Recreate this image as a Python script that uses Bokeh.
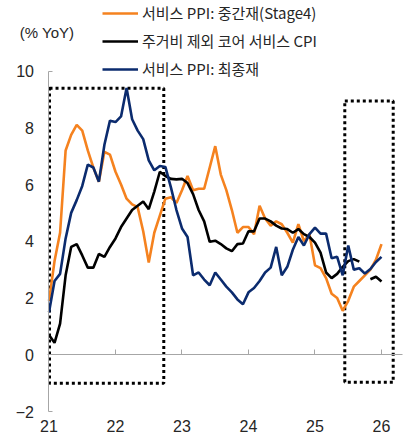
from bokeh.plotting import figure
from bokeh.models import Range1d, FixedTicker, Legend, LegendItem, Label
from bokeh.embed import file_html
from bokeh.resources import INLINE

# ---------------- data (monthly, Jan 2021 - Jan 2026) ----------------
months = [f"{y}-{m:02d}" for y in range(2021, 2027) for m in range(1, 13)][:61]

stage4_services_ppi = [
    1.9, 3.3, 4.3, 7.2, 7.75, 8.1, 7.9, 7.2, 6.6, 6.1,
    7.15, 7.05, 6.45, 6.0, 5.5, 5.3, 5.2, 4.35, 3.25, 4.3,
    4.9, 5.5, 5.55, 5.35, 5.8, 6.3, 5.8, 5.85, 5.85, 6.6,
    7.35, 6.35, 5.8, 5.1, 4.3, 4.5, 4.5, 4.25, 5.25, 4.8,
    4.55, 4.7, 4.6, 4.3, 3.95, 4.6, 4.0, 4.25, 3.15, 3.05,
    2.7, 2.15, 2.0, 1.55, 1.9, 2.4, 2.6, 2.8, 3.0, 3.35,
    3.9,
]
core_services_ex_housing_cpi = [
    0.7, 0.42, 1.1, 2.8, 3.8, 3.9, 3.5, 3.07, 3.07, 3.55,
    3.45, 3.8, 4.1, 4.5, 4.8, 5.1, 5.25, 5.4, 5.13, 5.75,
    6.45, 6.3, 6.2, 6.18, 6.2, 6.05, 5.66, 5.1, 4.7, 3.98,
    4.02, 3.9, 3.75, 3.65, 3.9, 3.92, 4.35, 4.35, 4.8, 4.8,
    4.7, 4.55, 4.45, 4.43, 4.3, 4.43, 4.25, 4.15, 3.95, 3.6,
    2.9, 2.7, 2.85, 3.1, 3.3, 3.37, 3.28, float("nan"), 2.66, 2.75,
    2.58,
]
final_demand_services_ppi = [
    1.5, 2.6, 2.85, 4.1, 5.0, 5.45, 5.95, 6.7, 6.6, 6.1,
    7.4, 8.25, 8.2, 8.4, 9.4, 8.3, 7.9, 7.6, 6.85, 6.5,
    6.65, 6.62, 5.9, 5.1, 4.45, 4.15, 2.8, 2.9, 2.65, 2.45,
    2.9, 2.65, 2.4, 2.2, 1.95, 1.78, 2.2, 2.35, 2.6, 2.9,
    3.07, 3.8, 2.8, 3.1, 3.7, 4.15, 3.85, 4.25, 4.48, 4.27,
    4.27, 3.4, 3.45, 2.8, 3.85, 3.0, 3.05, 2.86, 3.02, 3.27,
    3.45,
]

series_labels = ["서비스 PPI: 중간재(Stage4)", "주거비 제외 코어 서비스 CPI", "서비스 PPI: 최종재"]
year_ticks = [2021, 2022, 2023, 2024, 2025, 2026]
year_labels = ["21", "22", "23", "24", "25", "26"]
y_ticks = [-2, 0, 2, 4, 6, 8, 10]
unit_label = "(% YoY)"

# highlighted periods (dotted boxes): left, right, bottom, top
box_left = [2021.008, 2025.448]
box_right = [2022.726, 2026.176]
box_bottom = [-1.0, -0.97]
box_top = [9.39, 8.94]

# ---------------- styling ----------------
ORANGE = "#F5821F"
BLACK = "#000000"
NAVY = "#0B2B6E"
GRAY = "#A6A6A6"
TXT = "#262626"
KFONT = "Noto Sans CJK KR"
NFONT = "Liberation Sans"

x = [int(s[:4]) + (int(s[5:]) - 1) / 12 for s in months]

X0, X1 = 2020.2707, 2026.391          # full-canvas frame
Y0, Y1 = -2.9515, 12.485
AX_X = 2020.985                       # where the y axis sits
XB = (2020.977, 2026.316)             # extent of the zero line

p = figure(width=407, height=438, output_backend="svg", toolbar_location=None,
           x_range=Range1d(X0, X1), y_range=Range1d(Y0, Y1),
           min_border=0)
p.outline_line_color = None
p.xgrid.visible = False
p.ygrid.visible = False
p.background_fill_color = "white"
p.border_fill_color = "white"

# x axis: drawn on the zero line, labels at the bottom
xa = p.xaxis[0]
xa.fixed_location = 0
xa.bounds = XB
xa.ticker = FixedTicker(ticks=year_ticks, minor_ticks=year_ticks[1:])
xa.major_label_overrides = {t: l for t, l in zip(year_ticks, year_labels)}
xa.axis_line_color = GRAY
xa.major_tick_in = 0
xa.major_tick_out = 0
xa.minor_tick_in = 5
xa.minor_tick_out = 0
xa.minor_tick_line_color = GRAY
xa.major_label_standoff = 65
xa.major_label_text_font = NFONT
xa.major_label_text_font_size = "16px"
xa.major_label_text_color = TXT

# y axis
ya = p.yaxis[0]
ya.fixed_location = AX_X
ya.bounds = (y_ticks[0], y_ticks[-1])
ya.ticker = FixedTicker(ticks=y_ticks, minor_ticks=[y_ticks[0], y_ticks[-1]])
ya.axis_line_color = GRAY
ya.major_tick_in = 0
ya.major_tick_out = 0
ya.minor_tick_in = 4
ya.minor_tick_out = 0
ya.minor_tick_line_color = GRAY
ya.major_label_standoff = 14
ya.major_label_text_font = NFONT
ya.major_label_text_font_size = "16px"
ya.major_label_text_color = TXT
ya.major_label_overrides = {t: ("\u22122" if t < 0 else str(t)) for t in y_ticks}

# dotted highlight boxes
p.quad(left=box_left, right=box_right, bottom=box_bottom, top=box_top,
       fill_color=None, line_color="black", line_width=3, line_dash="3 3")

r1 = p.line(x, stage4_services_ppi, line_color=ORANGE, line_width=2.6)
r2 = p.line(x, core_services_ex_housing_cpi, line_color=BLACK, line_width=2.6)
r3 = p.line(x, final_demand_services_ppi, line_color=NAVY, line_width=2.6)

legend = Legend(items=[LegendItem(label=series_labels[0], renderers=[r1]),
                       LegendItem(label=series_labels[1], renderers=[r2]),
                       LegendItem(label=series_labels[2], renderers=[r3])],
                location=(102, 359), orientation="vertical",
                glyph_width=36, glyph_height=20, label_height=20,
                label_standoff=4, spacing=7, padding=0, margin=0,
                border_line_color=None, background_fill_alpha=0,
                label_text_font=KFONT, label_text_font_size="15px",
                label_text_color=TXT)
p.add_layout(legend, "center")

p.add_layout(Label(x=2020.970, y=11.357, text=unit_label, text_align="center",
                   text_baseline="middle", text_font=NFONT,
                   text_font_size="15px", text_color=TXT))

open("out.html", "w").write(file_html(p, INLINE))
